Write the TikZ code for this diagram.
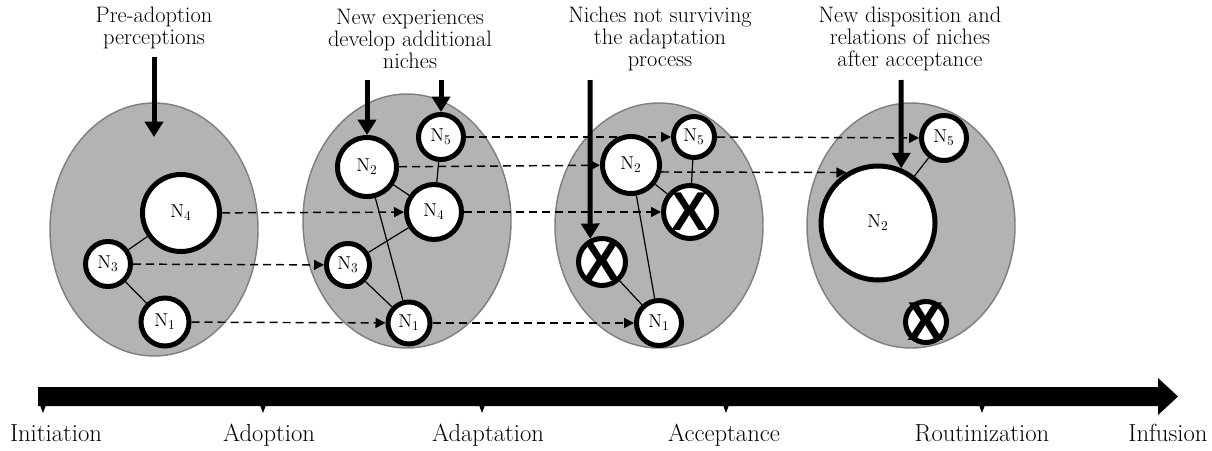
\documentclass[tikz,border=0pt]{standalone}
\usepackage{fontspec}
\newfontfamily\xfont{Liberation Sans}
\usetikzlibrary{arrows.meta}
\definecolor{stagefill}{RGB}{179,179,179}
\definecolor{stageedge}{RGB}{128,128,128}
\begin{document}
\begin{tikzpicture}[x=0.75pt,y=-0.75pt,
 stage/.style={fill=stagefill,draw=stageedge,line width=1.1pt},
 niche/.style={circle,draw,fill=white,line width=3.75pt,inner sep=0pt,minimum size=#1*1.5pt,font=\fontsize{14pt}{14pt}\selectfont},
 link/.style={line width=0.9pt},
 flow/.style={line width=1.1pt,dash pattern=on 6pt off 3.75pt,-{Triangle[length=7.5pt,width=7.5pt]}},
 input/.style={line width=3.75pt,-{Triangle[length=11.5pt,width=13.5pt]}},
 xmark/.style={inner sep=0pt,font=\xfont\bfseries\fontsize{41pt}{41pt}\selectfont},
 caption/.style={align=center,font=\fontsize{16.8pt}{16.4pt}\selectfont},
 phase/.style={anchor=base,font=\fontsize{18.5pt}{19pt}\selectfont}
]
\useasboundingbox (0,0) rectangle (1212,450);

% stages
\draw[stage] (154,229.5) ellipse [x radius=104, y radius=126.5];
\draw[stage] (407,221) ellipse [x radius=104, y radius=127];
\draw[stage] (659,225.5) ellipse [x radius=104, y radius=122.5];
\draw[stage] (911,225.5) ellipse [x radius=104, y radius=122.5];

% niches, stage 1
\node[niche=38.5] (A4) at (181,213) {N$_4$};
\node[niche=22.5] (A3) at (108,264) {N$_3$};
\node[niche=24]   (A1) at (165,322) {N$_1$};
% stage 2
\node[niche=22.5] (B5) at (441,137) {N$_5$};
\node[niche=29.5] (B2) at (367,167) {N$_2$};
\node[niche=27.5] (B4) at (434,212) {N$_4$};
\node[niche=21.5] (B3) at (348,265) {N$_3$};
\node[niche=21]   (B1) at (409,323) {N$_1$};
% stage 3
\node[niche=20.5] (C5) at (694,137) {N$_5$};
\node[niche=28.5] (C2) at (631,165) {N$_2$};
\node[niche=26.5] (C4) at (690,212) {};
\node[niche=23.5] (C3) at (602,262) {};
\node[niche=22.5] (C1) at (659,323) {N$_1$};
% stage 4
\node[niche=22.5] (D5) at (944,138) {N$_5$};
\node[niche=57]   (D2) at (878,223) {N$_2$};
\node[niche=20.5] (DX) at (926,322) {};

% links
\draw[link] (A4) -- (A3);
\draw[link] (A3) -- (A1);
\draw[link] (B5) -- (B4);
\draw[link] (B2) -- (B4);
\draw[link] (B4) -- (B3);
\draw[link] (B2) -- (B1);
\draw[link] (B3) -- (B1);
\draw[link] (C5) -- (C4);
\draw[link] (C2) -- (C4);
\draw[link] (C2) -- (C1);
\draw[link] (C3) -- (C1);
\draw[link] (D5) -- (D2);

% flows between stages
\draw[flow] (A4) -- (B4);
\draw[flow] (A3) -- (B3);
\draw[flow] (A1) -- (B1);
\draw[flow] (B5) -- (C5);
\draw[flow] (B2) -- (C2);
\draw[flow] (B4) -- (C4);
\draw[flow] (B1) -- (C1);
\draw[flow] (C5) -- (D5);
\draw[flow] (C2.-13) -- (D2.122);

% crossed-out niches
\node[xmark] (X1) at (C4) {X};
\node[xmark] (X2) at (C3) {X};
\node[xmark] (X3) at (DX) {X};

% inputs
\coordinate (p1) at (154,57);  \coordinate (q1) at (154,137);
\coordinate (p2) at (367,80);
\coordinate (p3) at (441,80);
\coordinate (p4) at (590,80);
\coordinate (p5) at (901,80);
\draw[input] (p1) -- (q1);
\draw[input] (p2) -- (B2);
\draw[input] (p3) -- (B5);
\draw[input] (p4) -- (C3.117);
\draw[input] (p5) -- (D2.67);

% captions
\node[caption] (t1) at (154,28) {Pre-adoption\\perceptions};
\node[caption] (t2) at (410,39) {New experiences\\develop additional\\niches};
\node[caption] (t3) at (660,39) {Niches not surviving\\the adaptation\\process};
\node[caption] (t4) at (910,39) {New disposition and\\relations of niches\\after acceptance};

% timeline
\fill (38,387) -- (1158,387) -- (1158,378) -- (1178,396.5) -- (1158,415) -- (1158,406) -- (38,406) -- cycle;
\foreach \x in {43,263,482,726,982}
  \fill ({\x-3},405) -- ({\x+3},405) -- (\x,413) -- cycle;

\node[phase] (l1) at (56,441) {Initiation};
\node[phase] (l2) at (269,441) {Adoption};
\node[phase] (l3) at (488,441) {Adaptation};
\node[phase] (l4) at (724,441) {Acceptance};
\node[phase] (l5) at (982,441) {Routinization};
\node[phase] (l6) at (1168,441) {Infusion};
\end{tikzpicture}
\end{document}
